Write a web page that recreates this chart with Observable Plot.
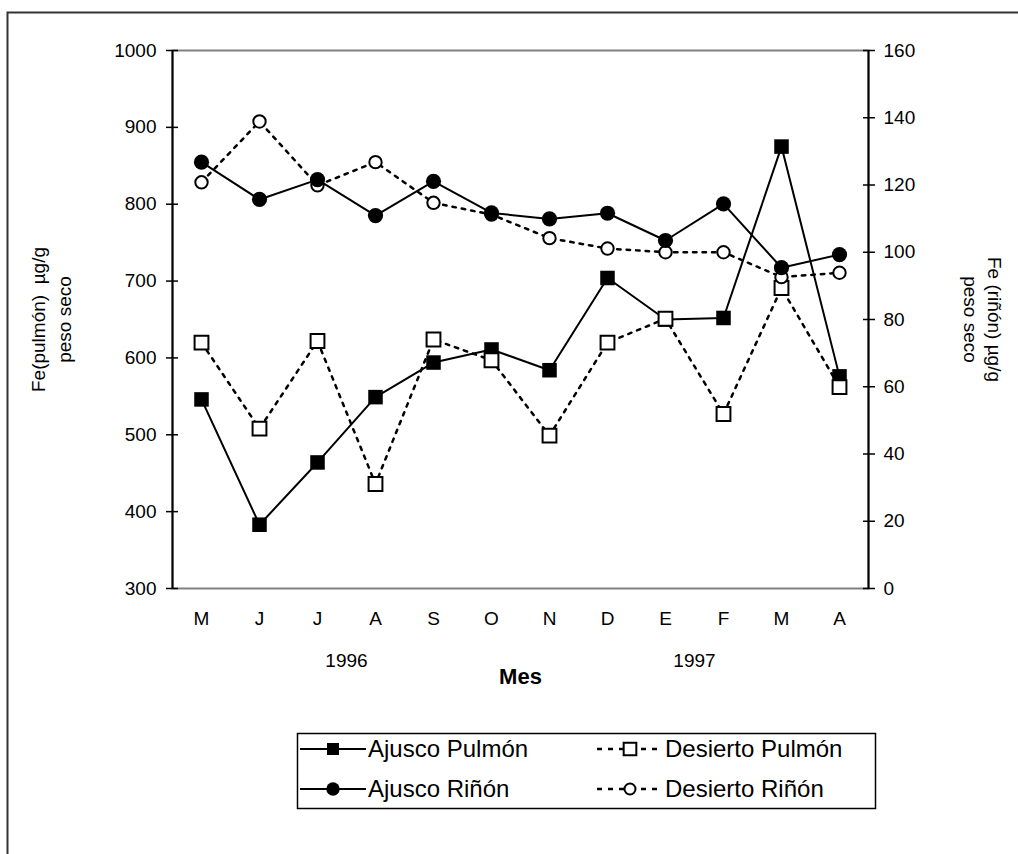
<!DOCTYPE html>
<html><head><meta charset="utf-8">
<script src="https://cdn.jsdelivr.net/npm/d3@7"></script>
<script src="https://cdn.jsdelivr.net/npm/@observablehq/plot@0.6"></script>
<style>body{margin:0;background:#fff;} #chart{width:1018px;height:854px;}</style>
</head><body><div id="chart"></div>
<script>
const months = ["M","J","J","A","S","O","N","D","E","F","M","A"];
const years = ["1996","1997"];
const yearPos = [2.5, 8.5];
const ajuscoPulmon = [546,383,464,549,594,611,584,704,650,652,875,576];
const desiertoPulmon = [620,508,622,436,624,597,499,620,651,527,691,562];
const ajuscoRinon = [126.8,115.7,121.6,110.9,121.1,111.7,109.9,111.6,103.5,114.4,95.4,99.3];
const desiertoRinon = [120.8,138.9,119.9,126.8,114.7,111.2,104.2,101.1,100.0,100.0,92.6,93.9];
const leftTicks = [300,400,500,600,700,800,900,1000];
const rightTicks = [0,20,40,60,80,100,120,140,160];
const seriesNames = ["Ajusco Pulmón","Desierto Pulmón","Ajusco Riñón","Desierto Riñón"];

const FONT = "'Liberation Sans', Arial, sans-serif";
const toL = v => 300 + v * 700 / 160;
const fromL = d => String(Math.round((d - 300) * 160 / 700));
const tbl = (arr, f = v => v) => arr.map((v, i) => ({i, v: f(v)}));

const AP = tbl(ajuscoPulmon), DP = tbl(desiertoPulmon);
const AR = tbl(ajuscoRinon, toL), DR = tbl(desiertoRinon, toL);
const dash = "3.5,6";

const plot = Plot.plot({
  width: 1018, height: 854,
  marginLeft: 172, marginRight: 150, marginTop: 50, marginBottom: 266,
  style: {fontFamily: FONT, fontSize: "19px", color: "black", background: "white"},
  x: {type: "linear", domain: [-0.5, 11.5], axis: null},
  y: {domain: [300, 1000], axis: null},
  marks: [
    Plot.frame({stroke: "#808080", strokeWidth: 2}),
    Plot.ruleX([-0.5, 11.5], {stroke: "black", strokeWidth: 2}),
    // left axis
    Plot.axisY({anchor: "left", ticks: leftTicks, tickSize: 12, dx: 6, tickFormat: () => "", label: null, strokeWidth: 1.5}),
    Plot.axisY({anchor: "left", ticks: leftTicks, tickSize: 0, tickPadding: 16, tickFormat: d => String(d), label: null, fontSize: 19}),
    // right axis
    Plot.axisY({anchor: "right", ticks: rightTicks.map(toL), tickSize: 12, dx: -6, tickFormat: () => "", label: null, strokeWidth: 1.5}),
    Plot.axisY({anchor: "right", ticks: rightTicks.map(toL), tickSize: 0, tickPadding: 15, tickFormat: fromL, label: null, fontSize: 19}),
    // x axis
    Plot.axisX({ticks: d3.range(12), tickFormat: i => months[i], tickSize: 0, tickPadding: 23, label: null, fontSize: 19}),
    Plot.text(years, {x: (d, i) => yearPos[i], text: d => d, frameAnchor: "bottom", dy: 72, fontSize: 19, lineAnchor: "middle"}),
    Plot.text(["Mes"], {x: 5.5, text: d => d, frameAnchor: "bottom", dy: 88, fontSize: 22, fontWeight: "bold", lineAnchor: "middle"}),
    // axis titles
    Plot.text(["Fe(pulmón)  µg/g\npeso seco"], {text: d => d, frameAnchor: "left", rotate: -90, dx: -123, fontSize: 19, textAnchor: "middle", lineAnchor: "middle", lineHeight: 1.4}),
    Plot.text(["Fe (riñón) µg/g\npeso seco"], {text: d => d, frameAnchor: "right", rotate: 90, dx: 115, fontSize: 19, textAnchor: "middle", lineAnchor: "middle", lineHeight: 1.25}),
    // series
    Plot.line(AP, {x: "i", y: "v", stroke: "black", strokeWidth: 2}),
    Plot.dot(AP, {x: "i", y: "v", symbol: "square", r: 8.2, fill: "black", stroke: "none"}),
    Plot.line(DP, {x: "i", y: "v", stroke: "black", strokeWidth: 2.5, strokeDasharray: dash}),
    Plot.dot(DP, {x: "i", y: "v", symbol: "square", r: 7.8, fill: "white", stroke: "black", strokeWidth: 2}),
    Plot.line(DR, {x: "i", y: "v", stroke: "black", strokeWidth: 2.5, strokeDasharray: dash}),
    Plot.dot(DR, {x: "i", y: "v", r: 6.2, fill: "white", stroke: "black", strokeWidth: 2}),
    Plot.line(AR, {x: "i", y: "v", stroke: "black", strokeWidth: 2}),
    Plot.dot(AR, {x: "i", y: "v", r: 7.6, fill: "black", stroke: "none"})
  ]
});

const svg = d3.select(plot);
// outer frame
svg.append("path").attr("d", "M7.5,854V12.5H1018").attr("fill", "none").attr("stroke", "#333").attr("stroke-width", 2);

// legend
const lg = svg.append("g").attr("font-family", FONT).attr("font-size", 24).attr("text-anchor", "start");
lg.append("rect").attr("x", 297.5).attr("y", 733.5).attr("width", 578).attr("height", 75)
  .attr("fill", "white").attr("stroke", "black").attr("stroke-width", 1.5);
const items = [
  {name: seriesNames[0], x: 300, y: 749, dashed: false, sym: d3.symbolSquare, size: 144, fill: "black"},
  {name: seriesNames[1], x: 597, y: 749, dashed: true, sym: d3.symbolSquare, size: 160, fill: "white"},
  {name: seriesNames[2], x: 300, y: 789, dashed: false, sym: d3.symbolCircle, size: 140, fill: "black"},
  {name: seriesNames[3], x: 597, y: 789, dashed: true, sym: d3.symbolCircle, size: 95, fill: "white"}
];
for (const it of items) {
  lg.append("line").attr("x1", it.x).attr("x2", it.x + 66).attr("y1", it.y).attr("y2", it.y)
    .attr("stroke", "black").attr("stroke-width", it.dashed ? 2.5 : 2)
    .attr("stroke-dasharray", it.dashed ? "5,6" : null);
  lg.append("path").attr("d", d3.symbol(it.sym, it.size)())
    .attr("transform", `translate(${it.x + 33},${it.y})`)
    .attr("fill", it.fill).attr("stroke", it.fill === "white" ? "black" : "none").attr("stroke-width", 2);
  lg.append("text").attr("x", it.x + 68).attr("y", it.y).attr("dy", "0.35em").text(it.name);
}

document.getElementById("chart").appendChild(plot);
</script>
</body></html>
